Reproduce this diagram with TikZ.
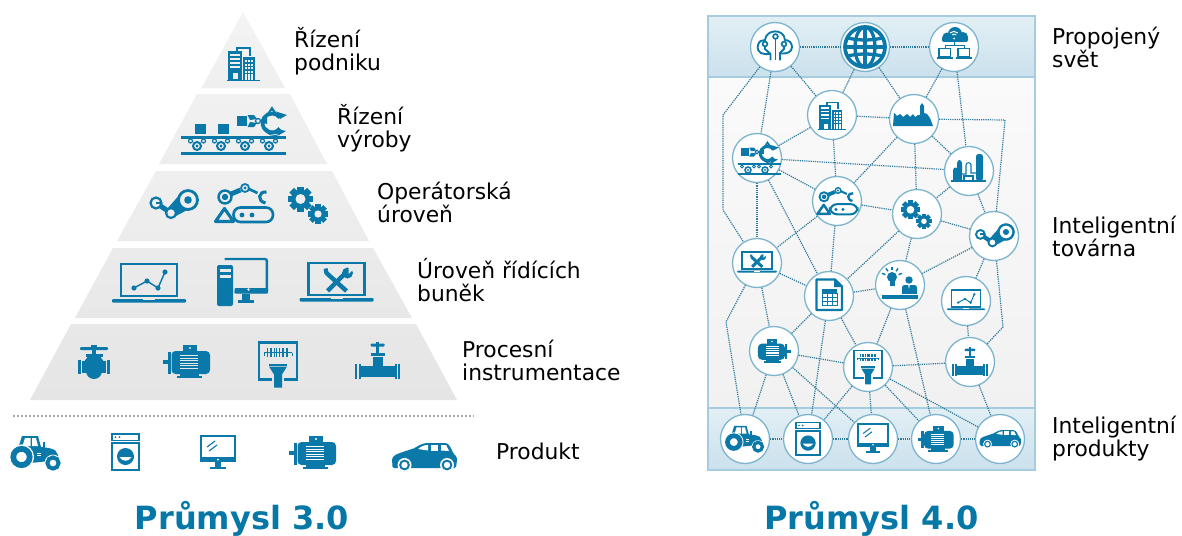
\documentclass[tikz,border=0pt]{standalone}
\usepackage{fontspec}
\setmainfont{DejaVu Sans}
\usetikzlibrary{calc}
\definecolor{icblue}{HTML}{0A78A8}
\definecolor{titleblue}{HTML}{0578A8}
\definecolor{hubline}{HTML}{7DB5CE}
\definecolor{linkc}{HTML}{2F7A9C}
\definecolor{tA}{HTML}{F4F4F4}\definecolor{tAb}{HTML}{EFEFEF}
\definecolor{tB}{HTML}{F1F1F1}\definecolor{tBb}{HTML}{EEEEEE}
\definecolor{tC}{HTML}{EFEFEF}\definecolor{tCb}{HTML}{ECECEC}
\definecolor{tD}{HTML}{EBEBEB}\definecolor{tDb}{HTML}{E8E8E8}
\definecolor{tE}{HTML}{E8E8E8}\definecolor{tEb}{HTML}{E5E5E5}
\definecolor{bandt}{HTML}{E2EFF5}\definecolor{bandb}{HTML}{CBE1EC}
\definecolor{midt}{HTML}{FAFAFA}\definecolor{midb}{HTML}{F1F1F1}
\definecolor{frame}{HTML}{A5CDDF}
\definecolor{divider}{HTML}{A8A8A8}
\colorlet{ibg}{white}
\tikzset{
  ic/.style={fill=icblue,draw=none},
  ih/.style={fill=ibg,draw=none},
  il/.style={draw=icblue,line width=#1pt*(0.3+0.8*\icS),fill=none},
  ib/.style={draw=ibg,line width=#1pt*\icS,fill=none},
  hub/.style={circle,draw=hubline,line width=1.3pt,fill=white,minimum size=49pt,inner sep=0pt},
  link/.style={draw=linkc,line width=1.2pt,dash pattern=on 1.2pt off 1pt},
  lbl/.style={font=\fontsize{21.8}{23}\selectfont,align=left,anchor=west,inner sep=0pt,text=black},
  ttl/.style={font=\bfseries\fontsize{32}{34}\selectfont,text=titleblue,inner sep=0pt},
}
\newcommand\icon[5][white]{\begin{scope}[shift={(#3,#4)},scale=#5]\def\icS{#5}\colorlet{ibg}{#1}\csname ico#2\endcsname\end{scope}}
% gear: cx cy body-radius tooth-radius hole n
\newcommand\gearic[6]{%
  \foreach \ga in {1,...,#6}{\fill[ic,shift={(#1,#2)},rotate=\ga*360/#6] (-#4*0.26,0) rectangle (#4*0.26,-#4);}
  \fill[ic] (#1,#2) circle (#3);
  \fill[ih] (#1,#2) circle (#5);}
\newcommand\icobldg{%
  \fill[ic] (-15,-12) rectangle (-1,17);
  \foreach \yy in {-9,-5,-1,3}{\fill[ih] (-13,\yy) rectangle (-3,\yy+2);}
  \fill[ih] (-10,10) rectangle (-5,16);
  \fill[ic] (0,-6) rectangle (12,17);
  \foreach \xx in {2,5.2,8.4}{\foreach \yy in {-3,0.5,4,7.5}{\fill[ih] (\xx,\yy) rectangle (\xx+1.8,\yy+2);}
    \fill[ih] (\xx,11) rectangle (\xx+1.8,16.5);}
  \draw[il=1.2] (-6,-12) -- (-6,-15) -- (7,-15) -- (7,-7);
  \fill[ic] (-16,16.5) rectangle (17,18);}
\newcommand\icowheels[2]{%
  \foreach \xx in {#1}{
    \draw[il=1.8] (\xx,#2) circle (4);
    \fill[ic] (\xx,#2) circle (1.7);
    \draw[il=1.1] (\xx-6.5,#2-5) circle (2);
    \draw[il=1.1] (\xx+6.5,#2-5) circle (2);}}
\newcommand\icoconv{%
  \fill[ic] (-38.5,-7) rectangle (-27.5,3);
  \fill[ic] (-15.5,-7) rectangle (-4.5,3);
  \fill[ic] (-52.5,5) rectangle (52.5,8);
  \icowheels{-36.5,-12.5,11.5,35.5}{15}
  \fill[ic] (-52.5,21) rectangle (52.5,24);}
\newcommand\icoclaw{%
  \fill[ic] (-25,-5) rectangle (-15,5);
  \fill[ic] (-14.5,-6) -- (-8,-6) -- (-5,-2) -- (-12,-1) -- cycle;
  \fill[ic] (-14.5,6) -- (-8,6) -- (-5,2) -- (-12,1) -- cycle;
  \draw[il=1.2] (-4,0) circle (2.5);
  \fill[ic] (-1,-1.4) -- (5,-3) -- (5,3) -- (-1,1.4) -- cycle;
  \draw[il=3.4] (10,2) ++(35:9.5) arc (35:325:9.5);
  \draw[il=1.2] (10,-11) -- (7,-9) -- (10,-13.5) -- (13,-9) -- cycle;
  \fill[ic] (14,-9.5) -- (25,-6) -- (18,-2) -- cycle;
  \fill[ic] (15,8) -- (24,10) -- (19,13) -- (14,13) -- cycle;
  \draw[il=0.9] (1,6) .. controls (5,15) and (12,15.5) .. (18,13.5);
  \draw[il=0.9] (4,7) .. controls (8,11) and (12,11.5) .. (17,10);}
\newcommand\icorobothand{%
  \begin{scope}[shift={(3,-6)},scale=.75]\def\icS{0.75}\icoclaw\end{scope}
  \fill[ic] (-19,5) rectangle (24,7);
  \draw[il=1.4] (-9,12) circle (3); \fill[ic] (-9,12) circle (1.2);
  \draw[il=1.4] (8,12) circle (3); \fill[ic] (8,12) circle (1.2);
  \draw[il=0.8] (-15,8.5) circle (1.5); \draw[il=0.8] (-3,8.5) circle (1.5);
  \draw[il=0.8] (2,8.5) circle (1.5); \draw[il=0.8] (14,8.5) circle (1.5);
  \fill[ic] (-19,15) rectangle (24,17);}
\newcommand\icosteam{%
  \fill[ic] (9,-13) -- (-6,4) -- (1,12) -- (18,3) -- cycle;
  \draw[il=4.5] (-17,-2) -- (-2,8);
  \fill[ih] (15,-5) circle (9.5);
  \draw[il=2.5] (15,-5) circle (9.5);
  \fill[ic] (15,-5) circle (3.8);
  \fill[ih] (-17,-2) circle (5.5);
  \draw[il=2] (-17,-2) circle (5.5);
  \draw[il=2] (-17,-2) -- (-11,-2);
  \fill[ih] (-2,8) circle (5);
  \draw[il=2] (-2,8) circle (5);}
\newcommand\icorobot{%
  \draw[il=2.4,rounded corners=7pt] (-10,4.5) rectangle (29.5,19);
  \fill[ic] (-1.5,12) circle (2.4); \fill[ic] (8.5,12) circle (2.4);
  \draw[il=2.8,line join=round] (-28,18.5) -- (-19,5.5) -- (-10,18.5) -- cycle;
  \draw[il=2.2] (-18.5,-6) circle (6.5);
  \fill[ic] (-18.5,-6) circle (3.2);
  \draw[il=4.4] (-12.5,-9) -- (-3,-13);
  \draw[il=1.6] (1.5,-15) circle (4);
  \fill[ic] (1.5,-15) circle (1.6);
  \draw[il=2.4] (5.5,-14) -- (14,-10);
  \draw[il=2.8] (23,-11) .. controls (15,-12) and (13,-2) .. (22,0);}
\newcommand\icogears{%
  \gearic{-8.5}{-5.5}{9.5}{12.5}{5}{8}
  \gearic{9}{9.5}{7.5}{10}{3.6}{8}}
\newcommand\icolapbar{%
  \draw[il=2.4] (-28,-19) rectangle (28,13);
  \fill[ic,rounded corners=1pt] (-37,16) rectangle (37,19.5);
  \fill[ih] (-6,16.2) rectangle (6,17.2);}
\newcommand\icolapchart{%
  \icolapbar
  \draw[il=1.3] (-15,5) -- (-2,-2) -- (9,5) -- (16,-11);
  \foreach \xx/\yy in {-15/5,-2/-2,9/5,16/-11}{\fill[ic] (\xx,\yy) circle (2.6);}}
\newcommand\icolaptool{%
  \icolapbar
  \draw[il=4] (-10,-9) -- (10,9);
  \draw[il=4] (9,-9) -- (-9,9);
  \fill[ic] (11,-9) circle (5.5);
  \fill[ih] (12,-15) -- (17,-13) -- (12,-8) -- cycle;
  \fill[ic] (-13,-13) -- (-9,-14) -- (-8,-9) -- (-12,-8) -- cycle;}
\newcommand\icopc{%
  \draw[il=2.2,rounded corners=2pt] (-18,-23.5) -- (24.4,-23.5) -- (24.4,9.5) -- (-8,9.5);
  \fill[ic,rounded corners=1pt] (-8,5.5) rectangle (25.5,11);
  \fill[ih] (6,7) circle (1.3);
  \fill[ic] (-1,11) rectangle (7,17);
  \fill[ic] (-5,17) rectangle (11,20.5);
  \fill[ic,rounded corners=2pt] (-25.5,-17.5) rectangle (-9.5,23.5);
  \fill[ih] (-23,-14) rectangle (-12,-11);
  \fill[ih] (-23,-8) rectangle (-12,-5);}
\newcommand\icovalve{%
  \fill[ic,rounded corners=1pt] (-14,-15) rectangle (14,-12);
  \fill[ic] (-3,-17) rectangle (3,-12);
  \fill[ic] (-2,-12) rectangle (2,-8);
  \fill[ic] (-8.5,-8) rectangle (8.5,-5.5);
  \fill[ic] (-6,-5.5) -- (6,-5.5) -- (9.5,-1) -- (-9.5,-1) -- cycle;
  \fill[ic] (-12,-1) rectangle (12,11);
  \fill[ic] (0,9) circle (8);
  \fill[ic] (-16,-2) rectangle (-12.7,12);
  \fill[ic] (12.7,-2) rectangle (16,12);}
\newcommand\icomotor{%
  \fill[ic] (-24,-1.5) rectangle (-18,2.5);
  \fill[ic] (-19,-10) rectangle (-16,12);
  \fill[ic,rounded corners=4pt] (-15.5,-10.5) rectangle (23,12.5);
  \foreach \yy in {-6.5,-4,...,8}{\fill[ih] (-7,\yy) rectangle (11,\yy+1);}
  \fill[ic] (-4,-16.5) rectangle (10,-10);
  \fill[ih] (3,-13.5) circle (1.2);
  \fill[ic] (-7,12) rectangle (12,14);
  \fill[ic] (-10,14) rectangle (15,16.5);}
\newcommand\icomotorR{\begin{scope}[xscale=-1]\icomotor\end{scope}}
\newcommand\icoscanner{%
  \draw[il=2.2] (-6,15) -- (-19,15) -- (-19,-22) -- (19,-22) -- (19,15) -- (6,15);
  \foreach \xx/\ww in {-11/1,-8.5/.6,-7/1.4,-4/.6,-2/1,0.5/1.6,3.5/.6,5/1.2,7.5/.6,9/1.4}{
    \fill[ic] (\xx,-17) rectangle (\xx+\ww,-13);
    \fill[ic] (\xx,-11.5) rectangle (\xx+\ww,-7.5);}
  \draw[il=0.7] (-14,-12) -- (-14,-9) (14,-12) -- (14,-9) (-14,-12.2) -- (14,-12.2);
  \fill[ic] (-9,-1) rectangle (9,1);
  \fill[ic] (-9,2) -- (9,2) -- (4,10) -- (4,23) -- (-4,23) -- (-4,10) -- cycle;}
\newcommand\icopipevalve{%
  \fill[ic] (-17,5.5) rectangle (17,16.5);
  \fill[ic] (-22.5,3) rectangle (-20.5,18.5);
  \fill[ic] (-19,3) rectangle (-17,18.5);
  \fill[ic] (20.5,3) rectangle (22.5,18.5);
  \fill[ic] (17,3) rectangle (19,18.5);
  \fill[ic] (-5,-4) rectangle (5,6);
  \fill[ic] (-7,-8) rectangle (7,-5);
  \fill[ic] (-1.6,-14) rectangle (1.6,-8);
  \fill[ic,rounded corners=1pt] (-7,-17) rectangle (7,-14);
  \fill[ic] (-1.8,-19) rectangle (1.8,-14);}
\newcommand\icotractor{%
  \fill[ic] (-16,4) -- (-17.5,-6) -- (-14,-17) -- (2,-17) -- (5,-6) -- (13,-5) -- (19,-3) -- (22,2) -- (22,7) -- (-5,10) -- cycle;
  \fill[ih] (-11,-15) -- (-5.5,-15) -- (-5.5,-7) -- (-13.5,-7) -- cycle;
  \fill[ih] (-4,-15) -- (0,-15) -- (2,-7) -- (-4,-7) -- cycle;
  \fill[ic] (7,-11) rectangle (9,-5);
  \fill[ih] (1,0) rectangle (5,1); \fill[ih] (1,2.3) rectangle (5,3.3);
  \fill[ih] (-14.5,4) circle (12.6);
  \fill[ih] (17,10) circle (8.4);
  \draw[il=5.2] (-14.5,4) circle (8.2);
  \draw[il=3.6] (17,10) circle (5.6);}
\newcommand\icowasher{%
  \draw[il=1.6] (-13.6,-18.2) rectangle (13.6,-11.5);
  \fill[ic] (-10,-15) circle (1); \fill[ic] (-6,-15) circle (1);
  \draw[il=2] (-13.6,-9) rectangle (13.6,18);
  \fill[ic] (0,4.5) circle (8.5);
  \fill[ih] (-6,5) .. controls (-3,10) and (3,10) .. (6,5) -- cycle;}
\newcommand\icomonitor{%
  \draw[il=2] (-17,-16) rectangle (17,9);
  \fill[ic] (-18,5) rectangle (18,10);
  \fill[ih] (0,7.5) circle (1);
  \fill[ic] (-3,10) rectangle (3,14.5);
  \fill[ic] (-8,14.5) rectangle (8,17);
  \draw[il=1] (-11,-5) -- (-3,-11) (-9,-1) -- (-1,-7);}
\newcommand\icocar{%
  \fill[ic,rounded corners=1.5pt] (-31.5,11) -- (-32,1) -- (-29,-2) .. controls (-22,-5) and (-15,-7) .. (-9,-9) .. controls (-5,-12) and (0,-14) .. (5,-14) -- (23,-14) .. controls (26,-11) and (28,-7) .. (29,-4) .. controls (31,-2) and (33,0) .. (33,3) -- (32,11) -- cycle;
  \fill[ih] (-6,-8) .. controls (-3,-10.5) and (0,-12) .. (4,-12) -- (4,-6.5) -- cycle;
  \fill[ih] (7,-12) -- (14,-12) -- (14,-6.5) -- (7,-6.5) -- cycle;
  \fill[ih] (17,-12) -- (22,-12) -- (25,-6) -- (17,-6.5) -- cycle;
  \foreach \xx in {-19.5,23}{\fill[ih] (\xx,8) circle (7);
    \fill[ic] (\xx,8) circle (5.4);
    \fill[ih] (\xx,8) circle (3.2);}}
\newcommand\icocloudtree{%
  \draw[il=1.7] (-10,-1) -- (-10,2) -- (-4.5,7) -- (-4.5,13.5) (9,-1) -- (9,2) -- (5,6) -- (5,13.5);
  \draw[il=1.7] (0.5,-8) -- (0.5,13.5);
  \draw[il=1.7] (-5,7) .. controls (-12,8) and (-19,6) .. (-17,-2) .. controls (-16,-6) and (-13,-7) .. (-10,-7) .. controls (-9,-18) and (9,-19) .. (10,-7) .. controls (14,-7) and (17,-4) .. (17,0) .. controls (17,5) and (12,7) .. (6,6.5);
  \foreach \xx/\yy in {-10/-3,0.5/-10.5,9/-3}{\fill[ih] (\xx,\yy) circle (2.4); \draw[il=1.5] (\xx,\yy) circle (2.4);}}
\newcommand\icoglobe{%
  \begin{scope}
    \clip (0,0) circle (20);
    \draw[il=3] (0,0) ellipse (10 and 20);
    \draw[il=3] (0,-21) -- (0,21);
    \draw[il=3] (-21,0) -- (21,0);
    \draw[il=3] (-21,-10) .. controls (-8,-6) and (8,-6) .. (21,-10);
    \draw[il=3] (-21,10) .. controls (-8,6) and (8,6) .. (21,10);
  \end{scope}
  \draw[il=3.4] (0,0) circle (20);}
\newcommand\icocloudpc{%
  \fill[ic] (-7,-10) circle (4.5);
  \fill[ic] (1,-13) circle (7);
  \fill[ic] (9,-10) circle (5);
  \fill[ic,rounded corners=2pt] (-12,-11) rectangle (14,-5);
  \draw[ib=1] (-4,-14) arc (-135:-45:5.5);
  \draw[ib=1] (-2,-12) arc (-135:-45:3);
  \fill[ih] (0.2,-8.5) circle (1);
  \draw[il=.9] (0.5,-5) -- (0.5,-1.5) (-9,1) -- (-9,-1.5) -- (10,-1.5) -- (10,1);
  \draw[il=1.2] (-15,1.5) rectangle (-3.5,9.5);
  \draw[il=1.2] (4,1.5) rectangle (15.5,9.5);
  \fill[ic] (-17,10.5) rectangle (-1.5,12.5);
  \fill[ic] (2,10.5) rectangle (17.5,12.5);}
\newcommand\icofactory{%
  \fill[ic] (-21,7) -- (-20,-6) -- (-17,-3) -- (-14,-5) -- (-11,-2) -- (-7,-5) -- (-4,-2) -- (-1,-5) -- (1,-2) -- (4,-4) -- (6,-4) -- (6,-13) -- (8,-16) -- (10,-13) -- (10,-6) -- (13,-5) -- (16,-1) -- (19,7) -- cycle;}
\newcommand\icorefinery{%
  \fill[ic,rounded corners=2.5pt] (7,-17) rectangle (14,10);
  \fill[ic] (-18,8.5) rectangle (17,11);
  \fill[ic] (-16,9) -- (-16,-1) .. controls (-15,-4) and (-13,-4) .. (-12,-3) -- (-12,-8) .. controls (-11,-12) and (-8,-12) .. (-7,-8) -- (-7,9) -- cycle;
  \draw[il=1] (-7,3) -- (-3,3) -- (-3,-6) .. controls (-3,-9) and (2,-9) .. (2,-6) -- (2,2) -- (7,2);
  \draw[il=1] (-5,9) -- (-5,5) -- (4,5) -- (4,9);}
\newcommand\icoperson{%
  \fill[ic] (-8,-8) circle (5);
  \fill[ic] (-10.5,-4) rectangle (-5.5,1);
  \foreach \aa in {-160,-125,-90,-55,-20}{\draw[il=1.3] (-8,-8) ++(\aa:7) -- ++(\aa:3.5);}
  \fill[ic] (9,-5) circle (3.7);
  \fill[ic,rounded corners=2.5pt] (2,0) rectangle (17,12);
  \fill[ih] (8.2,0) -- (9.8,0) -- (9,4) -- cycle;
  \fill[ih] (-19,8.6) rectangle (18,10);
  \fill[ic] (-18,10) rectangle (17.5,13.5);}
\newcommand\icosheet{%
  \draw[il=2,line join=round] (-12.5,-16.5) -- (6,-16.5) -- (13,-9.5) -- (13,14) -- (-12.5,14) -- cycle;
  \fill[ic] (5,-16.5) -- (13,-9) -- (5,-9) -- cycle;
  \fill[ic] (-7,-7) rectangle (8,-3);
  \draw[il=0.9] (-7,-3) rectangle (8,9);
  \draw[il=0.7] (-2,-3) -- (-2,9) (3,-3) -- (3,9) (-7,1) -- (8,1) (-7,5) -- (8,5);}
\begin{document}
\begin{tikzpicture}[x=1pt,y=-1pt]
\useasboundingbox (0,0) rectangle (1182,535);
\fill[white] (0,0) rectangle (1182,535);
% ---- left pyramid
\path[top color=tA,bottom color=tAb] (243,12) -- (285,88) -- (201.5,88) -- cycle;
\path[top color=tB,bottom color=tBb] (197,94) -- (290,94) -- (327,164) -- (159,164) -- cycle;
\path[top color=tC,bottom color=tCb] (156,171) -- (332,171) -- (369,241) -- (117,241) -- cycle;
\path[top color=tD,bottom color=tDb] (113,248) -- (373,248) -- (412,318) -- (75,318) -- cycle;
\path[top color=tE,bottom color=tEb] (71,324) -- (416,324) -- (457,400) -- (30,400) -- cycle;
\draw[divider,line width=2.4pt,dash pattern=on 2.2pt off 1.8pt] (13,416) -- (474,416);
% pyramid icons
\icon[tAb]{bldg}{243}{63}{1}
\icon[tB]{conv}{233.5}{131}{1}
\icon[tB]{claw}{262}{121}{1}
\icon[tC]{steam}{173}{205}{1}
\icon[tC]{robot}{243.5}{203}{1}
\icon[tC]{gears}{309}{204.5}{1}
\icon[tD]{lapchart}{149}{283}{1}
\icon[tD]{pc}{242.5}{282.5}{1}
\icon[tD]{laptool}{336.5}{282}{1}
\icon[tE]{valve}{94}{362}{1}
\icon[tE]{motor}{187}{361.5}{1}
\icon[tE]{scanner}{278}{364.5}{1}
\icon[tE]{pipevalve}{377.5}{360.5}{1}
\icon{tractor}{36}{453}{1}
\icon{washer}{125.5}{452}{1}
\icon{monitor}{218}{452}{1}
\icon{motor}{313}{452.5}{1}
\icon{car}{424}{457}{1}
% ---- left labels
\node[lbl] (lA) at (294,51) {Řízení\\podniku};
\node[lbl] (lB) at (337,128) {Řízení\\výroby};
\node[lbl] (lC) at (377,202) {Operátorská\\úroveň};
\node[lbl] (lD) at (417,280) {Úroveň řídících\\buněk};
\node[lbl] (lE) at (462,360) {Procesní\\instrumentace};
\node[lbl] (lF) at (496,451) {Produkt};
\node[ttl] (t3) at (242,519) {Průmysl 3.0};
% ---- right panel
\path[top color=midt,bottom color=midb] (708,77) rectangle (1035,408);
\path[top color=bandt,bottom color=bandb] (708,16) rectangle (1035,77);
\path[top color=bandt,bottom color=bandb] (708,408) rectangle (1035,470);
\draw[frame,line width=1.4pt] (708,16) rectangle (1035,470);
\draw[frame,line width=1.2pt] (708,77) -- (1035,77) (708,408) -- (1035,408);
% hubs
\node[hub] (cloudtree) at (775,47) {};
\node[hub] (globe) at (865,47) {};
\node[hub] (cloudpc) at (954,47) {};
\node[hub] (bldg) at (832,115) {};
\node[hub] (factory) at (914,119) {};
\node[hub] (hand) at (757,158) {};
\node[hub] (refinery) at (969,171) {};
\node[hub] (robot) at (837,201) {};
\node[hub] (gears) at (917,214) {};
\node[hub] (steam) at (994,236) {};
\node[hub] (laptool) at (757,263) {};
\node[hub] (sheet) at (829,296) {};
\node[hub] (person) at (900,285) {};
\node[hub] (lapchart) at (966,301) {};
\node[hub] (motor) at (774,351) {};
\node[hub] (scanner) at (868,367) {};
\node[hub] (pipe) at (970,362) {};
\node[hub] (tractor) at (745,439) {};
\node[hub] (washer) at (808,439) {};
\node[hub] (monitor) at (873,439) {};
\node[hub] (motorb) at (936,439) {};
\node[hub] (car) at (1000,439) {};
% way points
\coordinate (wa) at (723,115);
\coordinate (wb) at (723,210);
\coordinate (wc) at (1005,120);
\coordinate (we) at (1003,327);
\coordinate (wf) at (726,322);
% links
\foreach \a/\b in {cloudtree/globe,globe/cloudpc,cloudtree/bldg,cloudtree/hand,globe/bldg,globe/factory,
  cloudpc/factory,cloudpc/refinery,bldg/factory,bldg/hand,bldg/robot,factory/refinery,factory/robot,factory/gears,
  hand/refinery,hand/robot,hand/laptool,hand/sheet,refinery/gears,refinery/steam,robot/gears,robot/laptool,robot/sheet,
  gears/steam,gears/sheet,gears/person,steam/person,steam/lapchart,laptool/sheet,laptool/motor,sheet/person,sheet/motor,
  sheet/scanner,sheet/washer,person/scanner,person/motorb,lapchart/pipe,motor/scanner,motor/tractor,motor/washer,motor/monitor,
  scanner/pipe,scanner/washer,scanner/monitor,scanner/motorb,scanner/car,pipe/car,tractor/washer,washer/monitor,monitor/motorb,motorb/car}{
  \draw[link] (\a) -- (\b);}
\draw[link] (cloudtree) -- (wa) -- (wb) -- (laptool);
\draw[link] (factory) -- (wc) -- (steam);
\draw[link] (steam) -- (we) -- (pipe);
\draw[link] (laptool) -- (wf) -- (tractor);
% hub icons
\icon{cloudtree}{775}{47}{1}
\icon{globe}{865}{47}{1}
\icon{cloudpc}{954}{47}{1}
\icon{bldg}{832}{115}{.85}
\icon{factory}{914}{119}{1}
\icon{robothand}{757}{158}{1}
\icon{refinery}{969}{171}{1}
\icon{robot}{837}{201}{.7}
\icon{gears}{917}{214}{.77}
\icon{steam}{994}{236}{.8}
\icon{laptool}{757}{262}{.54}
\icon{sheet}{829}{296}{1}
\icon{person}{900}{285}{1}
\icon{lapchart}{966}{300}{.52}
\icon{motorR}{774}{351}{.7}
\icon{scanner}{868}{367}{.75}
\icon{pipevalve}{970}{362}{.78}
\icon{tractor}{745}{439}{.77}
\icon{washer}{808}{439}{.9}
\icon{monitor}{873}{438}{.9}
\icon{motor}{936}{439}{.77}
\icon{car}{1000}{439}{.64}
% ---- right labels
\node[lbl] (lG) at (1052,47) {Propojený\\svět};
\node[lbl] (lH) at (1052,236) {Inteligentní\\továrna};
\node[lbl] (lI) at (1052,439) {Inteligentní\\produkty};
\node[ttl] (t4) at (871.5,519) {Průmysl 4.0};
\end{tikzpicture}
\end{document}
